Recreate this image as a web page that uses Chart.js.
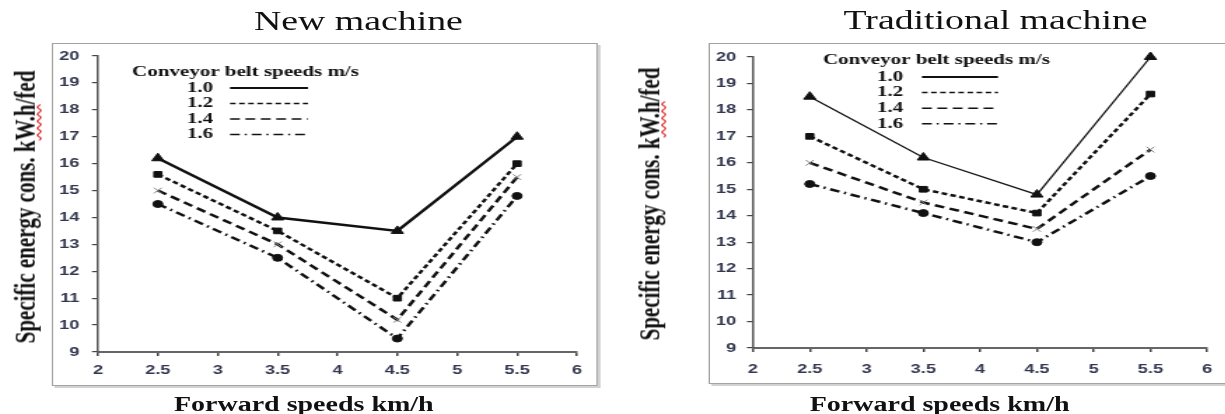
<!DOCTYPE html>
<html>
<head>
<meta charset="utf-8">
<script src="https://cdn.jsdelivr.net/npm/chart.js@4.4.1/dist/chart.umd.min.js"></script>
<style>
  html, body { margin: 0; padding: 0; background: #fff; }
  body { width: 1225px; height: 414px; overflow: hidden; position: relative; }
  .panel { position: absolute; top: 0; height: 414px; transform: scaleX(1.4); transform-origin: 0 0; }
  .panel canvas { position: absolute; left: 0; top: 0; }
  .frame { position: absolute; border: 1.5px solid #a3a3a3; box-shadow: 2px 2px 0 #d2d2d2; box-sizing: border-box; }
  .txt { position: absolute; white-space: nowrap; line-height: 1; color: #111;
         font-family: "Liberation Serif", "Times New Roman", serif; transform: translate(-50%, -50%); }
  .title { font-size: 27px; }
  .xtitle { font-size: 20px; font-weight: bold; }
  .ytitle { font-size: 21px; font-weight: bold; transform: translate(-50%, -50%) rotate(-90deg); }
  .sq { text-decoration: underline wavy #e02020; text-decoration-thickness: 1px; text-underline-offset: 1px; }
</style>
</head>
<body>
<div class="panel" style="left:0; width:437px;">
  <div class="frame" style="left:37px; top:43px; width:390px; height:343px;"></div>
  <canvas id="newChart" width="437" height="414"></canvas>
  <div class="txt title" style="left:256px; top:21px;">New machine</div>
  <div class="txt xtitle" style="left:217px; top:404px;">Forward speeds km/h</div>
  <div class="txt ytitle" style="left:18px; top:207px;">Specific energy cons. k<span class="sq">W.h</span>/fed</div>
</div>
<div class="panel" style="left:612px; width:438px;">
  <div class="frame" style="left:69px; top:43px; width:380px; height:341px;"></div>
  <canvas id="tradChart" width="438" height="414"></canvas>
  <div class="txt title" style="left:274px; top:20px;">Traditional machine</div>
  <div class="txt xtitle" style="left:234px; top:404px;">Forward speeds km/h</div>
  <div class="txt ytitle" style="left:27px; top:204px;">Specific energy cons. k<span class="sq">W.h</span>/fed</div>
</div>
<script>
const forwardSpeeds = [2.5, 3.5, 4.5, 5.5];
const beltSpeeds = ['1.0', '1.2', '1.4', '1.6'];
const legendTitle = 'Conveyor belt speeds m/s';
const xTicks = [2, 2.5, 3, 3.5, 4, 4.5, 5, 5.5, 6];
const yTicks = [9, 10, 11, 12, 13, 14, 15, 16, 17, 18, 19, 20];

// New machine, specific energy (kW.h/fed)
const newBelt10 = [16.2, 14.0, 13.5, 17.0];
const newBelt12 = [15.6, 13.5, 11.0, 16.0];
const newBelt14 = [15.0, 13.0, 10.2, 15.5];
const newBelt16 = [14.5, 12.5, 9.5, 14.8];

// Traditional machine
const tradBelt10 = [18.5, 16.2, 14.8, 20.0];
const tradBelt12 = [17.0, 15.0, 14.1, 18.6];
const tradBelt14 = [16.0, 14.5, 13.5, 16.5];
const tradBelt16 = [15.2, 14.1, 13.0, 15.5];

const lineStyles = [
    { dash: [], point: 'triangle', radius: 5, pointColor: '#111' },
    { dash: [4, 2.5], point: 'rect', radius: 4, pointColor: '#111' },
    { dash: [7, 4], point: 'crossRot', radius: 4, pointColor: '#808080' },
    { dash: [7, 3.5, 1.5, 3.5], point: 'circle', radius: 3.5, pointColor: '#111' }
];

const beltLegend = {
    id: 'beltLegend',
    afterDraw(chart, args, opts) {
        const ctx = chart.ctx;
        ctx.save();
        ctx.fillStyle = '#111';
        ctx.strokeStyle = '#111';
        ctx.textBaseline = 'middle';
        ctx.font = 'bold 15px "Liberation Serif", "Times New Roman", serif';
        ctx.fillText(legendTitle, opts.x, opts.y);
        chart.data.datasets.forEach((ds, i) => {
            const y = opts.rowY + i * opts.rowStep;
            ctx.fillText(ds.label, opts.numX, y);
            ctx.beginPath();
            ctx.lineWidth = i === 0 ? 2 : 1.5;
            ctx.setLineDash(ds.borderDash);
            ctx.moveTo(opts.lineX1, y);
            ctx.lineTo(opts.lineX2, y);
            ctx.stroke();
        });
        ctx.restore();
    }
};

function makeDatasets(seriesList, solidWidth) {
    return seriesList.map((values, i) => {
        const st = lineStyles[i];
        return {
            label: beltSpeeds[i],
            data: forwardSpeeds.map((x, j) => ({ x: x, y: values[j] })),
            borderColor: '#111',
            borderWidth: i === 0 ? solidWidth : 2.5,
            borderDash: st.dash,
            pointStyle: st.point,
            pointRadius: st.radius,
            pointBackgroundColor: st.pointColor,
            pointBorderColor: st.pointColor,
            pointBorderWidth: 1,
            tension: 0,
            fill: false,
            clip: false
        };
    });
}

function createChart(elementId, seriesList, geo) {
    const ctx = document.getElementById(elementId).getContext('2d');
    const tickFont = { family: '"Liberation Sans", Arial, sans-serif', size: 13, weight: 'bold' };
    return new Chart(ctx, {
        type: 'line',
        data: { datasets: makeDatasets(seriesList, geo.solidWidth) },
        options: {
            responsive: false,
            animation: false,
            devicePixelRatio: 1,
            layout: { padding: { left: 0, top: geo.top, right: geo.right, bottom: geo.bottom } },
            plugins: {
                legend: { display: false },
                tooltip: { enabled: false },
                beltLegend: geo.legend
            },
            scales: {
                x: {
                    type: 'linear',
                    min: xTicks[0],
                    max: xTicks[xTicks.length - 1],
                    afterBuildTicks: scale => { scale.ticks = xTicks.map(v => ({ value: v })); },
                    afterFit: scale => { scale.height = 40; },
                    grid: { drawOnChartArea: false, drawTicks: true, tickLength: 4, color: '#444', lineWidth: 1.5 },
                    border: { display: true, color: '#666', width: 2 },
                    ticks: {
                        font: tickFont, color: '#33384f', padding: geo.xPad, maxRotation: 0,
                        callback: value => String(value)
                    }
                },
                y: {
                    type: 'linear',
                    min: yTicks[0],
                    max: yTicks[yTicks.length - 1],
                    afterBuildTicks: scale => { scale.ticks = yTicks.map(v => ({ value: v })); },
                    afterFit: scale => { scale.width = geo.yWidth; },
                    grid: { drawOnChartArea: false, drawTicks: true, tickLength: 4.3, color: '#444', lineWidth: 1.2 },
                    border: { display: true, color: '#555', width: 1.5 },
                    ticks: { font: tickFont, color: '#33384f', padding: geo.yPad, callback: value => String(value) }
                }
            }
        },
        plugins: [beltLegend]
    });
}

window.onload = function() {
    createChart('newChart', [newBelt10, newBelt12, newBelt14, newBelt16], {
        top: 56, right: 24.9, bottom: 22, yWidth: 70, xPad: 6.2, yPad: 9, solidWidth: 2.5,
        legend: { x: 94.3, y: 72, rowY: 88, rowStep: 15.5, numX: 133.6, lineX1: 164.3, lineX2: 220 }
    });
    createChart('tradChart', [tradBelt10, tradBelt12, tradBelt14, tradBelt16], {
        top: 57, right: 10.8, bottom: 26, yWidth: 100.7, xPad: 9.2, yPad: 7.7, solidWidth: 1.3,
        legend: { x: 150.7, y: 60, rowY: 77, rowStep: 15.6, numX: 189.3, lineX1: 221.4, lineX2: 275.7 }
    });
};
</script>
</body>
</html>
